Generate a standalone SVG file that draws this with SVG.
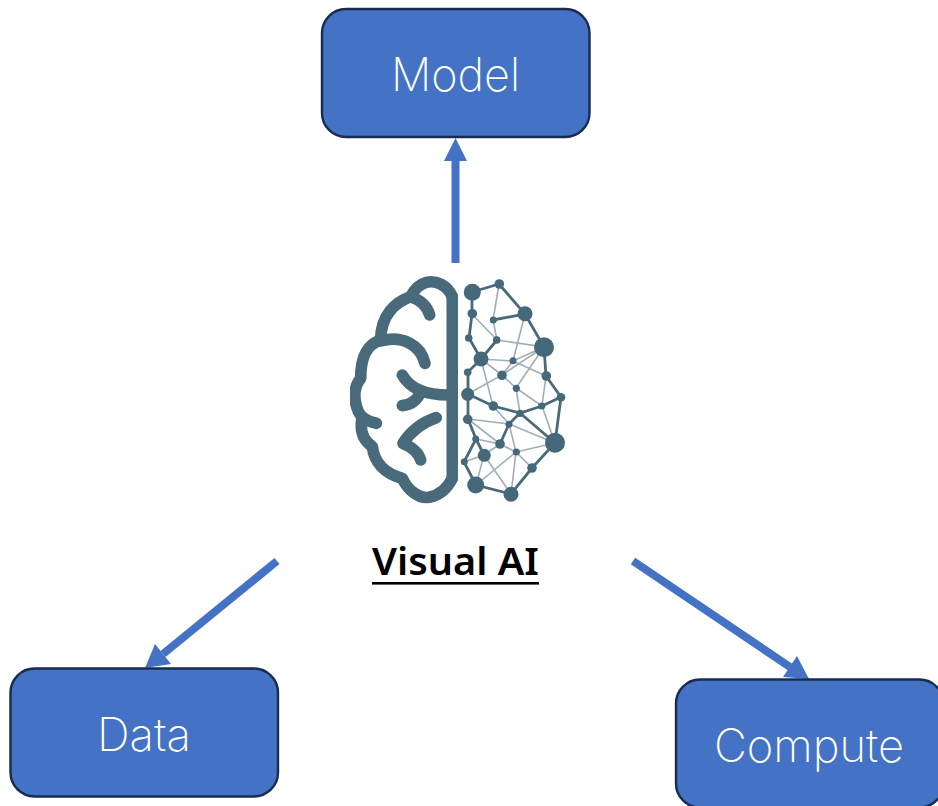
<svg xmlns="http://www.w3.org/2000/svg" width="938" height="806" viewBox="0 0 938 806">
<style>
.box{fill:#4472c4;stroke:#172c51;stroke-width:2.4}
.lbl{font-family:"Inter","Noto Sans",sans-serif;font-weight:200;font-size:46px;fill:#fff;text-anchor:middle}
.conn{stroke:#4472c4;stroke-width:8;fill:none}
.hd{fill:#4472c4}
.br{fill:none;stroke:#4a6b7a;stroke-width:35;stroke-linecap:round;stroke-linejoin:round}
.d{stroke:#4a6b7a;stroke-width:2.8;fill:none}
.l{stroke:#9fafb6;stroke-width:1.6;fill:none}
.n{fill:#45687a}
</style>
<defs><filter id="soft" x="-5%" y="-5%" width="110%" height="110%"><feGaussianBlur stdDeviation="0.5"/></filter></defs>
<rect width="938" height="806" fill="#fff"/>
<g id="connectors">
<path class="conn" d="M455.500 263V158"/><polygon class="hd" points="455.500,138 467,161 444,161"/>
<path class="conn" d="M277 561L163 654"/><polygon class="hd" points="145,668 155,644 171,664"/>
<path class="conn" d="M633 561L790 667"/><polygon class="hd" points="809,679 783,677 797,656"/>
</g>
<g id="model"><rect class="box" x="322" y="9" width="267.500" height="128" rx="24"/><text class="lbl" x="455.500" y="91" textLength="129" lengthAdjust="spacingAndGlyphs">Model</text></g>
<g id="data"><rect class="box" x="10.500" y="668.500" width="267.500" height="128" rx="24"/><text class="lbl" x="144" y="751" textLength="94" lengthAdjust="spacingAndGlyphs">Data</text></g>
<g id="compute"><rect class="box" x="676" y="679.500" width="267.500" height="128" rx="24"/><text class="lbl" x="809" y="762" textLength="190" lengthAdjust="spacingAndGlyphs">Compute</text></g>
<g id="visual-ai">
<g id="brain-left" transform="translate(339 265) scale(.3333)" filter="url(#soft)">
<path class="br" d="M340 95V640"/>
<path class="br" d="M340 95C325 60 290 45 262 52C240 58 225 75 215 95C170 110 125 150 125 225C80 240 65 280 65 340C45 365 42 400 58 440C65 455 85 470 112 475"/>
<path class="br" d="M68 465C62 510 80 530 100 545C105 590 135 625 190 640C205 675 240 702 270 697C305 690 325 670 340 640"/>
<path class="br" d="M215 95C245 105 265 125 272 150"/>
<path class="br" d="M125 228C190 210 245 240 258 295"/>
<path class="br" d="M190 330C215 375 265 392 340 390"/>
<path class="br" d="M242 388C230 410 215 420 190 422"/>
<path class="br" d="M292 458C250 472 215 500 192 535C215 545 238 560 245 585"/>
</g>
<g id="brain-net" filter="url(#soft)">
<path class="l" d="M499 284L493 320L497 340L472 314M525 314L513 361L502 375M497 340L544 347L513 361L481 359M513 361L546 376M544 347L502 375M481 359L502 375L468 394M481 359L493 406M502 375L516 388L544 347M516 388L520 413M516 388L542 406L555 443M546 376L542 406M493 406L509 424M468 419L509 424L555 443M468 419L500 444L516 452L555 443M500 444L484 455L464 462M516 452L532 468M516 452L511 494M516 452L476 485M484 455L511 494M484 455L476 485M509 424L516 452M476 439L500 444"/>
<path class="d" d="M472 292L499 284L525 314L544 347L546 376L561 397L555 443L532 468L511 494L476 485L464 462L476 439L468 419L468 394L468 372L481 359L469 338L472 314L472 292M525 314L493 320M481 359L497 340M468 394L493 406L520 413L542 406L561 397M520 413L555 443M509 424L520 413M509 424L500 444M476 439L484 455"/>
<circle class="n" cx="472.300" cy="292.300" r="8.500"/><circle class="n" cx="499.300" cy="284" r="4.800"/><circle class="n" cx="525" cy="313.700" r="7.500"/><circle class="n" cx="472.300" cy="313.700" r="4.800"/><circle class="n" cx="493.300" cy="320" r="3.500"/><circle class="n" cx="468.700" cy="338" r="3.800"/><circle class="n" cx="496.700" cy="340" r="3.800"/><circle class="n" cx="544" cy="347.300" r="10"/><circle class="n" cx="481" cy="359" r="7.500"/><circle class="n" cx="513" cy="360.700" r="3.500"/><circle class="n" cx="467.700" cy="372.300" r="3.800"/><circle class="n" cx="502" cy="375.300" r="4.800"/><circle class="n" cx="546.300" cy="376" r="4.800"/><circle class="n" cx="467.700" cy="394.300" r="6.500"/><circle class="n" cx="516.300" cy="388.300" r="3.600"/><circle class="n" cx="561" cy="397.300" r="4.300"/><circle class="n" cx="493.300" cy="406" r="4.800"/><circle class="n" cx="541.700" cy="406" r="3.600"/><circle class="n" cx="520" cy="413.300" r="3.600"/><circle class="n" cx="467.700" cy="419.300" r="4.800"/><circle class="n" cx="509" cy="424.300" r="3.500"/><circle class="n" cx="475.700" cy="439" r="3.500"/><circle class="n" cx="555" cy="442.700" r="10"/><circle class="n" cx="500" cy="444" r="4.800"/><circle class="n" cx="516.300" cy="452" r="3.600"/><circle class="n" cx="484.300" cy="455.300" r="6.500"/><circle class="n" cx="464.300" cy="461.700" r="3.500"/><circle class="n" cx="532" cy="468" r="4.800"/><circle class="n" cx="475.700" cy="485" r="8.500"/><circle class="n" cx="511" cy="494.300" r="7.500"/>
</g>
<text x="455.500" y="575" font-family="'Noto Sans','Open Sans',sans-serif" font-weight="600" font-size="37" fill="#000" text-anchor="middle" textLength="167" lengthAdjust="spacingAndGlyphs">Visual AI</text>
<rect x="372" y="582" width="167" height="2.600" fill="#000"/>
</g>
</svg>
